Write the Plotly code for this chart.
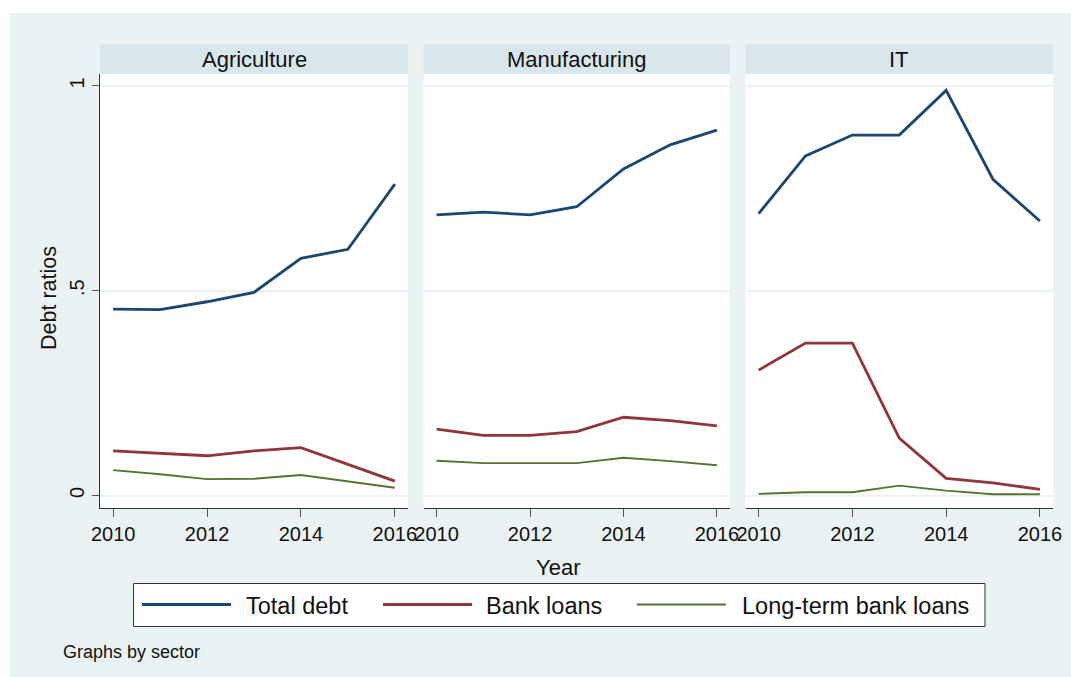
import plotly.graph_objects as go

# Debt ratios by sector, 2010-2016
years = [2010, 2011, 2012, 2013, 2014, 2015, 2016]
sectors = ["Agriculture", "Manufacturing", "IT"]

agri_total = [0.455, 0.454, 0.473, 0.496, 0.579, 0.601, 0.760]
agri_bank = [0.109, 0.103, 0.097, 0.109, 0.117, 0.076, 0.035]
agri_lt = [0.062, 0.052, 0.040, 0.041, 0.050, 0.035, 0.019]

manu_total = [0.685, 0.692, 0.685, 0.705, 0.797, 0.856, 0.892]
manu_bank = [0.162, 0.147, 0.147, 0.156, 0.191, 0.183, 0.170]
manu_lt = [0.085, 0.079, 0.079, 0.079, 0.092, 0.084, 0.074]

it_total = [0.688, 0.829, 0.880, 0.880, 0.989, 0.772, 0.670]
it_bank = [0.306, 0.372, 0.372, 0.140, 0.042, 0.031, 0.015]
it_lt = [0.004, 0.008, 0.008, 0.024, 0.012, 0.003, 0.003]

series_names = ["Total debt", "Bank loans", "Long-term bank loans"]
x_ticks = [2010, 2012, 2014, 2016]
y_ticks = [0, 0.5, 1]
y_tick_labels = ["0", ".5", "1"]

panel_data = [
    [agri_total, agri_bank, agri_lt],
    [manu_total, manu_bank, manu_lt],
    [it_total, it_bank, it_lt],
]

colors = ["#1A476F", "#90353B", "#55752F"]
widths = [2.8, 2.8, 1.9]

W, H = 1071, 677
FONT = "Liberation Sans, Arial, sans-serif"
BG = "#EAF2F3"
STRIP = "#D9E6EB"
TXT = "#111"


def px_x(p):
    return p / W


def px_y(p):
    return 1 - p / H


# panel extents in pixels
panels_px = [(100, 408), (423.5, 730), (745.5, 1053)]
plot_top, plot_bottom = 74, 508
strip_top = 44

fig = go.Figure()

for i, vals in enumerate(panel_data):
    ax = "" if i == 0 else str(i + 1)
    for j, v in enumerate(vals):
        fig.add_trace(go.Scatter(
            x=years, y=v, mode="lines", name=series_names[j],
            line=dict(color=colors[j], width=widths[j]),
            xaxis="x" + ax, yaxis="y" + ax, showlegend=False,
        ))

layout = dict(
    template="none",
    width=W, height=H,
    margin=dict(l=0, r=0, t=0, b=0, pad=0, autoexpand=False),
    paper_bgcolor=BG,
    plot_bgcolor="white",
    font=dict(family=FONT, color=TXT),
    showlegend=False,
)

for i, (x0, x1) in enumerate(panels_px):
    ax = "" if i == 0 else str(i + 1)
    layout["xaxis" + ax] = dict(
        domain=[px_x(x0), px_x(x1)],
        range=[2009.72, 2016.28],
        anchor="y" + ax,
        automargin=False,
        tickvals=x_ticks,
        ticks="outside", ticklen=8, tickcolor="#555", tickwidth=1,
        showline=True, linecolor="#333", linewidth=1,
        showgrid=False, zeroline=False,
        tickfont=dict(size=20, family=FONT, color=TXT),
    )
    layout["yaxis" + ax] = dict(
        domain=[px_y(plot_bottom), px_y(plot_top)],
        range=[-0.0305, 1.029],
        anchor="x" + ax,
        automargin=False,
        tickvals=y_ticks,
        ticktext=y_tick_labels,
        showgrid=True, gridcolor=BG, gridwidth=1.5,
        zeroline=False,
        showline=(i == 0), linecolor="#333", linewidth=1,
        ticks="outside" if i == 0 else "", ticklen=7, tickcolor="#555",
        showticklabels=(i == 0),
        tickangle=-90,
        tickfont=dict(size=20, family=FONT, color=TXT),
    )

fig.update_layout(**layout)

shapes = [
    # white frame around the graph region
    dict(type="rect", xref="paper", yref="paper",
         x0=0, x1=px_x(10), y0=0, y1=1,
         fillcolor="white", line=dict(width=0), layer="below"),
    dict(type="rect", xref="paper", yref="paper",
         x0=0, x1=1, y0=px_y(13), y1=1,
         fillcolor="white", line=dict(width=0), layer="below"),
]
annotations = []
for i, (x0, x1) in enumerate(panels_px):
    shapes.append(dict(type="rect", xref="paper", yref="paper",
                       x0=px_x(x0), x1=px_x(x1),
                       y0=px_y(plot_top), y1=px_y(strip_top),
                       fillcolor=STRIP, line=dict(width=0), layer="below"))
    annotations.append(dict(
        text=sectors[i], xref="paper", yref="paper",
        x=px_x((x0 + x1) / 2), y=px_y((strip_top + plot_top) / 2 + 1),
        xanchor="center", yanchor="middle", showarrow=False,
        font=dict(size=22, family=FONT, color=TXT),
    ))

# axis titles
annotations.append(dict(
    text="Debt ratios", xref="paper", yref="paper",
    x=px_x(49), y=px_y(298), textangle=-90,
    xanchor="center", yanchor="middle", showarrow=False,
    font=dict(size=21.5, family=FONT, color=TXT),
))
annotations.append(dict(
    text="Year", xref="paper", yref="paper",
    x=px_x(558), y=px_y(567),
    xanchor="center", yanchor="middle", showarrow=False,
    font=dict(size=22, family=FONT, color=TXT),
))

# legend box
lg_top, lg_bottom, lg_left, lg_right = 583.5, 626.5, 133.5, 985
shapes.append(dict(type="rect", xref="paper", yref="paper",
                   x0=px_x(lg_left), x1=px_x(lg_right),
                   y0=px_y(lg_bottom), y1=px_y(lg_top),
                   fillcolor="white", line=dict(color="#333", width=1)))
lg_mid = 604.5
key_starts = [142, 383, 637]
text_starts = [244, 484, 740]
for j in range(3):
    shapes.append(dict(type="line", xref="paper", yref="paper",
                       x0=px_x(key_starts[j]), x1=px_x(key_starts[j] + 89),
                       y0=px_y(lg_mid), y1=px_y(lg_mid),
                       line=dict(color=colors[j], width=widths[j] if j < 2 else 2.2)))
    annotations.append(dict(
        text=series_names[j], xref="paper", yref="paper",
        x=px_x(text_starts[j]), y=px_y(lg_mid + 1),
        xanchor="left", yanchor="middle", showarrow=False,
        font=dict(size=23.5, family=FONT, color=TXT),
    ))

annotations.append(dict(
    text="Graphs by sector", xref="paper", yref="paper",
    x=px_x(61), y=px_y(652),
    xanchor="left", yanchor="middle", showarrow=False,
    font=dict(size=18, family=FONT, color=TXT),
))

fig.update_layout(shapes=shapes, annotations=annotations)

fig.write_html("out.html")
